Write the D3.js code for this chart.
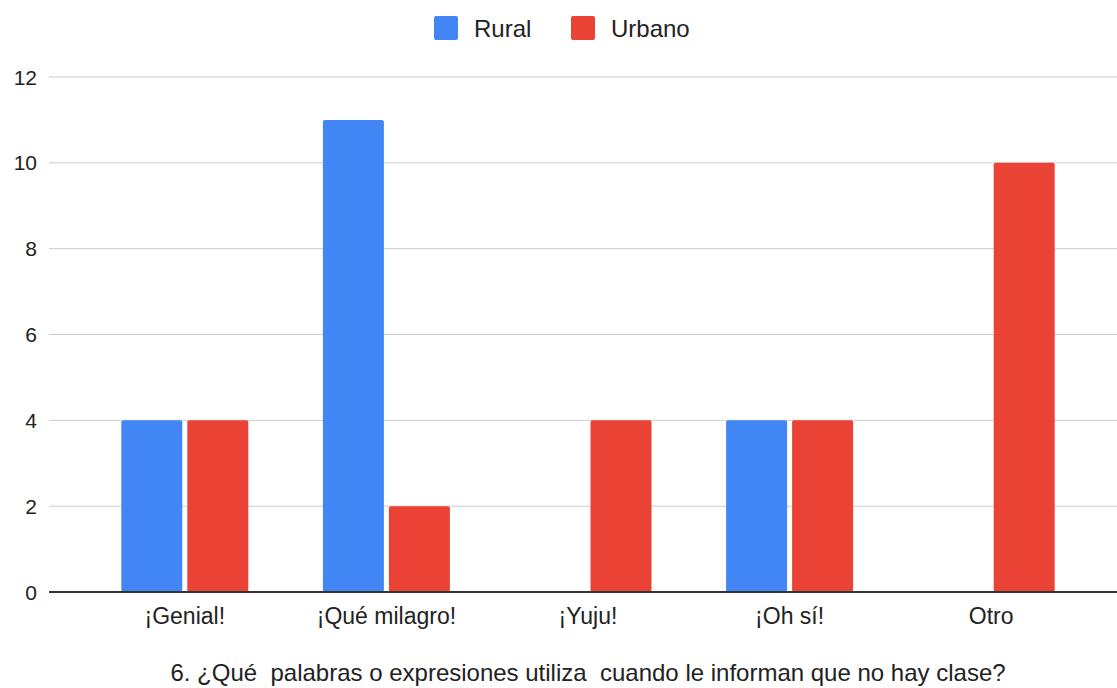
<!DOCTYPE html>
<html><head><meta charset="utf-8">
<script src="https://cdn.jsdelivr.net/npm/d3@7/dist/d3.min.js"></script>
<style>body{margin:0;background:#fff}text{font-family:"Liberation Sans",Arial,sans-serif}</style>
</head><body><svg id="c" width="1117" height="688"></svg>
<script>
const categories = ["¡Genial!", "¡Qué milagro!", "¡Yuju!", "¡Oh sí!", "Otro"];
const seriesNames = ["Rural", "Urbano"];
const rural = [4, 11, 0, 4, 0];
const urbano = [4, 2, 4, 4, 10];
const yTicks = [0, 2, 4, 6, 8, 10, 12];
const colors = ["#4285F4", "#EA4335"];
const title = "6. ¿Qué  palabras o expresiones utiliza  cuando le informan que no hay clase?";

const svg = d3.select("#c");
const y = d3.scaleLinear().domain([0, 12]).range([592, 77]);
const x = d3.scaleBand().domain(categories).range([84, 1092]);
const groupW = 127;
const xs = d3.scaleBand().domain(seriesNames).range([0, groupW]).paddingInner(0.076);

// grid
svg.append("g").selectAll("line").data(yTicks.filter(d => d > 0)).join("line")
  .attr("x1", 49).attr("x2", 1117).attr("y1", d => y(d)).attr("y2", d => y(d))
  .attr("stroke", "#cccccc").attr("stroke-width", 1);

// y labels
svg.append("g").selectAll("text").data(yTicks).join("text")
  .attr("x", 37).attr("y", d => y(d)).attr("dy", "0.36em").attr("text-anchor", "end")
  .attr("font-size", 21).attr("fill", "#222").text(d => d);

// bars
const data = [];
categories.forEach((c, i) => {
  [rural[i], urbano[i]].forEach((v, j) => data.push({c, s: seriesNames[j], v, j}));
});
svg.append("g").selectAll("rect").data(data.filter(d => d.v > 0)).join("rect")
  .attr("x", d => x(d.c) + x.bandwidth() / 2 - groupW / 2 + xs(d.s))
  .attr("width", xs.bandwidth())
  .attr("y", d => y(d.v)).attr("height", d => y(0) - y(d.v))
  .attr("rx", 2).attr("fill", d => colors[d.j]);

// baseline
svg.append("line").attr("x1", 49).attr("x2", 1117).attr("y1", y(0)).attr("y2", y(0))
  .attr("stroke", "#333").attr("stroke-width", 2);

// x labels
svg.append("g").selectAll("text").data(categories).join("text")
  .attr("x", d => x(d) + x.bandwidth() / 2).attr("y", 624).attr("text-anchor", "middle")
  .attr("font-size", 23).attr("fill", "#222").text(d => d);

// legend
const leg = svg.append("g");
const legX = [434, 571];
seriesNames.forEach((s, i) => {
  leg.append("rect").attr("x", legX[i]).attr("y", 16).attr("width", 24).attr("height", 24)
    .attr("rx", 2).attr("fill", colors[i]);
  leg.append("text").attr("x", legX[i] + 40).attr("y", 28).attr("dy", "0.36em")
    .attr("font-size", 24).attr("fill", "#222").text(s);
});

// title
svg.append("text").attr("x", 588).attr("y", 681).attr("text-anchor", "middle")
  .attr("font-size", 24).attr("fill", "#222").style("white-space", "pre").text(title);
</script></body></html>
